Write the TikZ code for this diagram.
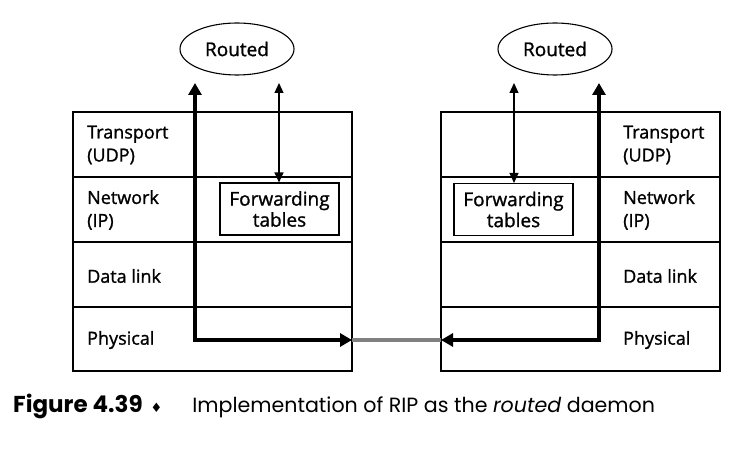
\documentclass[tikz,border=0pt]{standalone}
\usepackage{fontspec}
\setmainfont{Open Sans}[UprightFeatures={FakeBold=1.2}]
\newfontfamily\capfont{Poppins}
\newfontfamily\symfont{DejaVu Sans}
\usetikzlibrary{shapes.geometric,arrows.meta}

\begin{document}
\begin{tikzpicture}[x=1pt, y=-1pt,
	capa/.style={font=\fontsize{18}{23}\selectfont, align=left, anchor=west, inner sep=0pt},
	demonio/.style={draw, ellipse, line width=1.1pt, minimum width=114pt, minimum height=52pt, inner sep=0pt, font=\fontsize{19}{23}\selectfont},
	tabla/.style={draw, line width=1.1pt, minimum width=119pt, minimum height=52pt, inner sep=0pt, align=center, font=\fontsize{19}{21}\selectfont},
	gruesa/.style={line width=4.6pt, {Triangle[length=12pt,width=13pt]}-{Triangle[length=12pt,width=13pt]}},
	fina/.style={line width=1.2pt, {Triangle[length=10pt,width=9pt]}-{Triangle[length=10pt,width=9pt]}},
	enlace/.style={black!50, line width=3.5pt},
	leyenda/.style={font=\capfont\fontsize{20.6}{26}\selectfont, anchor=base west, inner sep=0pt}]
	\useasboundingbox (0,0) rectangle (756,457);
				%Pilas
				\draw[line width=1.1pt] (73,112) rectangle (352,371);
				\draw[line width=1.1pt] (441,112) rectangle (720,371);
				\foreach \y in {177,242,307}{
					\draw[line width=1.1pt] (73,\y)--(352,\y);
					\draw[line width=1.1pt] (441,\y)--(720,\y);
				}
				%Capas izquierda
				\node[capa] (tpl) at (87,145) {Transport\\(UDP)};
				\node[capa] (ipl) at (87,210) {Network\\(IP)};
				\node[capa] (dll) at (87,276) {Data link};
				\node[capa] (phl) at (87,340) {Physical};
				%Capas derecha
				\node[capa] (tpr) at (623,145) {Transport\\(UDP)};
				\node[capa] (ipr) at (623,210) {Network\\(IP)};
				\node[capa] (dlr) at (623,276) {Data link};
				\node[capa] (phr) at (623,340) {Physical};
				%Demonios
				\node[demonio] (rl) at (237,49) {Routed};
				\node[demonio] (rr) at (555,49) {Routed};
				%Tablas
				\node[tabla] (ftl) at (279.5,209) {Forwarding\\tables};
				\node[tabla] (ftr) at (513.5,209.5) {Forwarding\\tables};
				%Puntos
				\coordinate (tl) at (195,83);
				\coordinate (cl) at (195,340);
				\coordinate (el) at (352,340);
				\coordinate (tr) at (599,83);
				\coordinate (cr) at (599,340);
				\coordinate (er) at (441,340);
				\coordinate (al) at (279,83);
				\coordinate (ar) at (514,83);
				%Flechas
				\draw[enlace] (el)--(er);
				\draw[gruesa] (tl)--(cl)--(el);
				\draw[gruesa] (tr)--(cr)--(er);
				\draw[fina] (al)--(al |- ftl.north);
				\draw[fina] (ar)--(ar |- ftr.north);
				%Leyenda
				\node[leyenda] (fig) at (13,413) {{\bfseries\fontsize{23}{26}\selectfont Figure 4.39}\hspace{8pt}{\symfont\fontsize{13}{15}\selectfont ♦}\hspace{30pt}Implementation of RIP as the \textit{routed} daemon};
\end{tikzpicture}
\end{document}
